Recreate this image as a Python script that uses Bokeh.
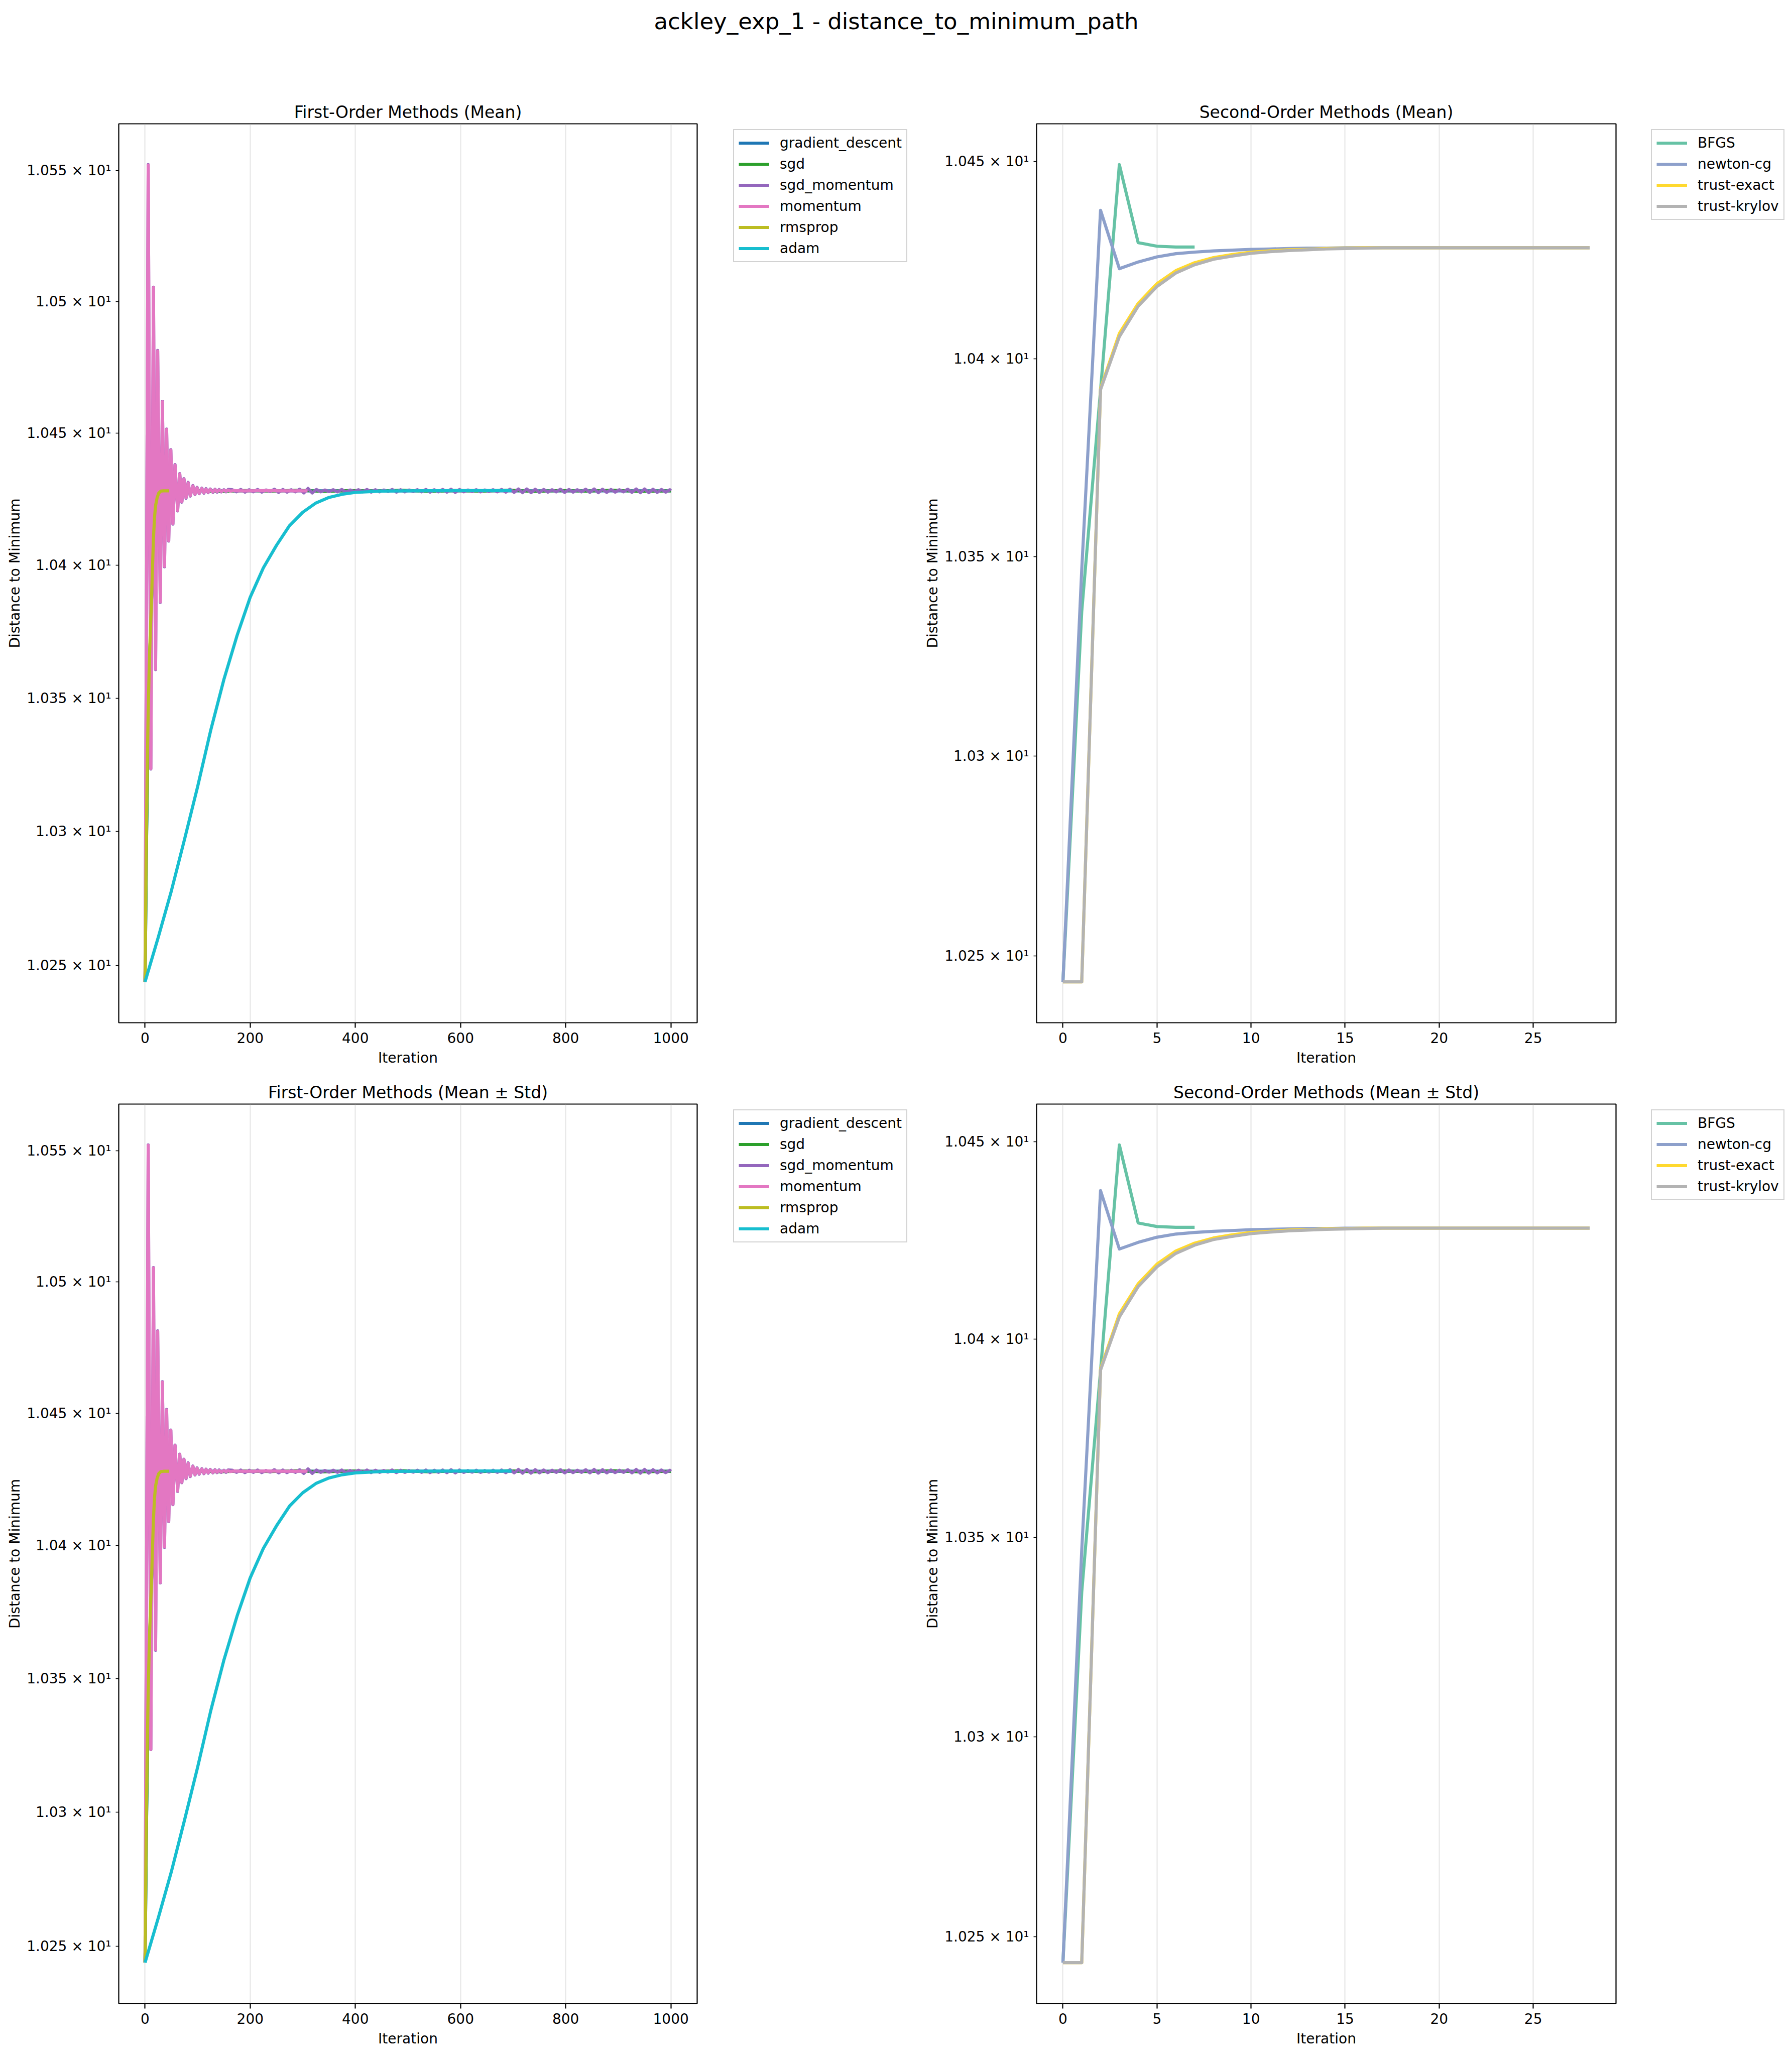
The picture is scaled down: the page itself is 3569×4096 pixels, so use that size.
from bokeh.plotting import figure
from bokeh.models import Range1d, FixedTicker, CustomJSTickFormatter, Legend, LegendItem, Label
from bokeh.layouts import column, row
from bokeh.embed import file_html
from bokeh.resources import INLINE
import math

FONT = "DejaVu Sans"

# ---------------- data ----------------
suptitle = "ackley_exp_1 - distance_to_minimum_path"
panel_titles = ["First-Order Methods (Mean)", "Second-Order Methods (Mean)",
                "First-Order Methods (Mean \u00b1 Std)", "Second-Order Methods (Mean \u00b1 Std)"]
x_label = "Iteration"
y_label = "Distance to Minimum"

first_names = ["gradient_descent", "sgd", "sgd_momentum", "momentum", "rmsprop", "adam"]
first_colors = ["#1f77b4", "#2ca02c", "#9467bd", "#e377c2", "#bcbd22", "#17becf"]

gd_x = [0, 3, 6, 9, 12, 15, 18, 21, 25, 30, 35, 40, 100, 300, 600, 1000]
gd_y = [10.2440, 10.3000, 10.3400, 10.3660, 10.3850, 10.3990, 10.4100, 10.4180, 10.4235,
        10.4265, 10.4278, 10.4281, 10.4281, 10.4281, 10.4281, 10.4281]

sgd_x = [0, 3, 6, 9, 12, 15, 18, 21, 25, 30, 35, 40, 90, 140, 190, 240, 290, 340, 390, 440,
         490, 540, 590, 640, 690, 740, 790, 840, 890, 940, 1000]
sgd_y = [10.2440, 10.3000, 10.3400, 10.3660, 10.3850, 10.3990, 10.4100, 10.4180, 10.4235,
         10.4265, 10.4278, 10.4281, 10.4283, 10.4279, 10.4282, 10.4280, 10.4283, 10.4279,
         10.4282, 10.4280, 10.4283, 10.4279, 10.4282, 10.4280, 10.4283, 10.4279, 10.4282,
         10.4280, 10.4283, 10.4279, 10.4281]

momentum_x = [0, 6, 11, 16, 20, 24, 29, 33, 37, 41, 45, 49, 53, 57, 62, 66, 70, 74, 78, 82,
              86, 91, 95, 99, 103, 108, 112, 116, 120, 124, 129, 133, 137, 141, 145, 150,
              154, 158, 162, 170, 180, 200, 230, 260, 309]
momentum_y = [10.2440, 10.5520, 10.3236, 10.5052, 10.3609, 10.4811, 10.3862, 10.4618,
              10.3996, 10.4513, 10.4093, 10.4435, 10.4157, 10.4378, 10.4207, 10.4344,
              10.4240, 10.4325, 10.4255, 10.4311, 10.4263, 10.4299, 10.4269, 10.4292,
              10.4272, 10.4289, 10.4274, 10.4287, 10.4276, 10.4286, 10.4277, 10.4285,
              10.4278, 10.4284, 10.4279, 10.4283, 10.4280, 10.4283, 10.4280, 10.4282,
              10.4281, 10.4281, 10.4282, 10.4281, 10.4281]

sgd_momentum_x = [0, 6, 11, 16, 20, 24, 29, 33, 37, 41, 45, 49, 53, 57, 62, 66, 70, 74, 78,
                  82, 86, 91, 95, 99, 103, 108, 112, 116, 120, 124, 129, 133, 137, 141, 145,
                  150, 154, 158,
                  166, 174, 182, 190, 198, 206, 214, 222, 230, 238, 246, 254, 262, 270, 278,
                  286, 294, 302, 310, 318, 326, 334, 342, 350, 358, 366, 374, 382, 390, 398,
                  406, 414, 422, 430, 438, 446, 454, 462, 470, 478, 486, 494, 502, 510, 518,
                  526, 534, 542, 550, 558, 566, 574, 582, 590, 598, 606, 614, 622, 630, 638,
                  646, 654, 662, 670, 678, 686, 694, 702, 710, 718, 726, 734, 742, 750, 758,
                  766, 774, 782, 790, 798, 806, 814, 822, 830, 838, 846, 854, 862, 870, 878,
                  886, 894, 902, 910, 918, 926, 934, 942, 950, 958, 966, 974, 982, 990, 998,
                  1000]
sgd_momentum_y = [10.2440, 10.5522, 10.3234, 10.5054, 10.3607, 10.4813, 10.3860, 10.4620,
                  10.3994, 10.4515, 10.4091, 10.4437, 10.4155, 10.4380, 10.4205, 10.4346,
                  10.4238, 10.4327, 10.4253, 10.4313, 10.4261, 10.4301, 10.4267, 10.4294,
                  10.4270, 10.4291, 10.4272, 10.4289, 10.4274, 10.4288, 10.4275, 10.4287,
                  10.4276, 10.4286, 10.4277, 10.4285, 10.4277, 10.4286,
                  10.4285, 10.4277, 10.4286, 10.4276, 10.4285, 10.4277, 10.4286, 10.4276,
                  10.4284, 10.4278, 10.4287, 10.4275, 10.4286, 10.4276, 10.4285, 10.4277,
                  10.4287, 10.4273, 10.4290, 10.4273, 10.4286, 10.4277, 10.4284, 10.4278,
                  10.4285, 10.4277, 10.4286, 10.4276, 10.4284, 10.4278, 10.4285, 10.4277,
                  10.4286, 10.4276, 10.4285, 10.4277, 10.4284, 10.4278, 10.4286, 10.4276,
                  10.4285, 10.4277, 10.4284, 10.4278, 10.4285, 10.4277, 10.4286, 10.4276,
                  10.4285, 10.4277, 10.4286, 10.4276, 10.4287, 10.4275, 10.4286, 10.4277,
                  10.4284, 10.4278, 10.4285, 10.4277, 10.4284, 10.4278, 10.4285, 10.4277,
                  10.4286, 10.4276, 10.4287, 10.4275, 10.4288, 10.4274, 10.4288, 10.4274,
                  10.4287, 10.4275, 10.4286, 10.4276, 10.4285, 10.4277, 10.4287, 10.4275,
                  10.4286, 10.4276, 10.4285, 10.4277, 10.4287, 10.4275, 10.4288, 10.4274,
                  10.4287, 10.4275, 10.4286, 10.4276, 10.4285, 10.4277, 10.4287, 10.4275,
                  10.4288, 10.4274, 10.4288, 10.4274, 10.4287, 10.4275, 10.4286, 10.4276,
                  10.4285, 10.4281]

rmsprop_x = [0, 2, 4, 6, 8, 10, 12, 14, 16, 18, 20, 23, 26, 30, 35, 46]
rmsprop_y = [10.2440, 10.2900, 10.3220, 10.3450, 10.3620, 10.3750, 10.3850, 10.3980,
             10.4100, 10.4180, 10.4225, 10.4255, 10.4272, 10.4280, 10.4281, 10.4281]

adam_x = [0, 25, 50, 75, 100, 125, 150, 175, 200, 225, 250, 275, 300, 325, 350, 375, 400,
          450, 500, 600, 697]
adam_y = [10.2440, 10.2605, 10.2778, 10.2970, 10.3168, 10.3380, 10.3570, 10.3735, 10.3879,
          10.3990, 10.4075, 10.4150, 10.4200, 10.4235, 10.4256, 10.4268, 10.4275, 10.4280,
          10.4281, 10.4282, 10.4282]

second_names = ["BFGS", "newton-cg", "trust-exact", "trust-krylov"]
second_colors = ["#66c2a5", "#8da0cb", "#ffd92f", "#b3b3b3"]

bfgs_x = [0, 1, 2, 3, 4, 5, 6, 7]
bfgs_y = [10.2436, 10.3363, 10.3921, 10.4492, 10.4294, 10.4285, 10.4283, 10.4283]

newton_x = list(range(29))
newton_y = [10.2436, 10.3468, 10.4376, 10.4228, 10.4245, 10.4258, 10.4266, 10.4270, 10.4273,
            10.4275, 10.4277, 10.4278, 10.4279, 10.4280, 10.4280, 10.4281, 10.4281, 10.4281,
            10.4281, 10.4281, 10.4281, 10.4281, 10.4281, 10.4281, 10.4281, 10.4281, 10.4281,
            10.4281, 10.4281]

texact_x = list(range(29))
texact_y = [10.2436, 10.2436, 10.3925, 10.4064, 10.4140, 10.4190, 10.4223, 10.4243, 10.4256,
            10.4264, 10.4270, 10.4273, 10.4276, 10.4277, 10.4279, 10.4280, 10.4281, 10.4281,
            10.4281, 10.4281, 10.4281, 10.4281, 10.4281, 10.4281, 10.4281, 10.4281, 10.4281,
            10.4281, 10.4281]

tkrylov_x = list(range(29))
tkrylov_y = [10.2436, 10.2436, 10.3922, 10.4056, 10.4133, 10.4183, 10.4217, 10.4238, 10.4252,
             10.4260, 10.4267, 10.4271, 10.4274, 10.4276, 10.4278, 10.4279, 10.4280, 10.4281,
             10.4281, 10.4281, 10.4281, 10.4281, 10.4281, 10.4281, 10.4281, 10.4281, 10.4281,
             10.4281, 10.4281]

first_series = [(gd_x, gd_y), (sgd_x, sgd_y), (sgd_momentum_x, sgd_momentum_y),
                (momentum_x, momentum_y), (rmsprop_x, rmsprop_y), (adam_x, adam_y)]
second_series = [(bfgs_x, bfgs_y), (newton_x, newton_y), (texact_x, texact_y),
                 (tkrylov_x, tkrylov_y)]

first_xticks = [0, 200, 400, 600, 800, 1000]
second_xticks = [0, 5, 10, 15, 20, 25]
first_yticks = [10.25, 10.30, 10.35, 10.40, 10.45, 10.50, 10.55]
first_ylabels = ["1.025 \u00d7 10\u00b9", "1.03 \u00d7 10\u00b9", "1.035 \u00d7 10\u00b9",
                 "1.04 \u00d7 10\u00b9", "1.045 \u00d7 10\u00b9", "1.05 \u00d7 10\u00b9",
                 "1.055 \u00d7 10\u00b9"]
second_yticks = [10.25, 10.30, 10.35, 10.40, 10.45]
second_ylabels = ["1.025 \u00d7 10\u00b9", "1.03 \u00d7 10\u00b9", "1.035 \u00d7 10\u00b9",
                  "1.04 \u00d7 10\u00b9", "1.045 \u00d7 10\u00b9"]

# ---------------- styling / layout ----------------
TICK_FS = "28px"
LABEL_FS = "28px"
TITLE_FS = "33px"
SUP_FS = "45px"
LW = 6.2
ITEM_H = 33
LEG_SPACING = 9
LEG_PAD = 9


def log_range(series, frac=0.05):
    lo = min(min(y) for _, y in series)
    hi = max(max(y) for _, y in series)
    a, b = math.log(lo), math.log(hi)
    m = (b - a) * frac
    return math.exp(a - m), math.exp(b + m)


def lin_range(series, frac=0.05):
    lo = min(min(x) for x, _ in series)
    hi = max(max(x) for x, _ in series)
    m = (hi - lo) * frac
    return lo - m, hi + m


def make_panel(title, series, colors, xticks, yticks, ylabels,
               width, height, mb_left, mb_right, mb_top, mb_bottom):
    x0, x1 = lin_range(series)
    y0, y1 = log_range(series)
    p = figure(width=width, height=height, x_range=Range1d(x0, x1), y_range=Range1d(y0, y1),
               y_axis_type="log", output_backend="svg", toolbar_location=None,
               min_border_left=mb_left, min_border_right=mb_right,
               min_border_top=mb_top, min_border_bottom=mb_bottom)
    p.title.text = title
    p.title.text_font = FONT
    p.title.text_font_size = TITLE_FS
    p.title.text_font_style = "normal"
    p.title.text_color = "black"
    p.title.align = "center"
    p.title.standoff = 8
    p.outline_line_color = "black"
    p.outline_line_width = 2.2
    p.outline_line_alpha = 1.0
    p.background_fill_color = "white"
    p.border_fill_color = "white"

    p.xaxis.ticker = FixedTicker(ticks=xticks)
    p.xgrid.ticker = FixedTicker(ticks=xticks)
    p.xgrid.grid_line_color = "#b0b0b0"
    p.xgrid.grid_line_alpha = 0.3
    p.xgrid.grid_line_width = 2.2
    p.ygrid.visible = False

    p.yaxis.ticker = FixedTicker(ticks=yticks)
    p.yaxis.formatter = CustomJSTickFormatter(
        args=dict(vals=yticks, labs=ylabels),
        code="for (let i = 0; i < vals.length; i++) { if (Math.abs(vals[i] - tick) < 1e-6) return labs[i]; } return '';")

    for ax in (p.xaxis[0], p.yaxis[0]):
        ax.axis_line_color = None
        ax.major_label_text_font = FONT
        ax.major_label_text_font_size = TICK_FS
        ax.major_label_text_color = "black"
        ax.axis_label_text_font = FONT
        ax.axis_label_text_font_size = LABEL_FS
        ax.axis_label_text_font_style = "normal"
        ax.axis_label_text_color = "black"
        ax.minor_tick_line_color = None
        ax.major_tick_in = 0
        ax.major_tick_line_color = "black"
    p.xaxis.major_tick_out = 10
    p.xaxis.major_tick_line_width = 2.2
    p.xaxis.major_label_standoff = 9
    p.xaxis.axis_label = x_label
    p.xaxis.axis_label_standoff = 10
    p.yaxis.major_tick_out = 6
    p.yaxis.major_tick_line_width = 1.7
    p.yaxis.major_label_standoff = 9
    p.yaxis.axis_label = y_label
    p.yaxis.axis_label_standoff = 4

    for (xs, ys), col in zip(series, colors):
        p.line(xs, ys, line_color=col, line_width=LW, line_join="round", line_cap="butt")
    return p


def make_legend(series, names, colors, width, height, dx, frame_h):
    # Legend-only figure: the series are drawn, but the view range lies beyond them,
    # so only the legend is seen. Its frame is aligned with the neighbouring panel's frame.
    xmax = max(max(x) for x, _ in series)
    lf = figure(width=width, height=height, x_range=Range1d(2 * xmax + 10, 3 * xmax + 20),
                y_range=Range1d(0, 1), output_backend="svg", toolbar_location=None,
                min_border=0, x_axis_location=None, y_axis_location=None)
    lf.outline_line_color = None
    lf.grid.visible = False
    items = []
    for (xs, ys), name, col in zip(series, names, colors):
        r = lf.line(xs, ys, line_color=col, line_width=LW)
        items.append(LegendItem(label=name, renderers=[r]))
    n = len(items)
    leg_h = n * ITEM_H + (n - 1) * LEG_SPACING + 2 * LEG_PAD
    leg = Legend(items=items, location=(dx, frame_h - 15 - leg_h), orientation="vertical",
                 margin=0, padding=LEG_PAD, spacing=LEG_SPACING, glyph_width=61,
                 glyph_height=ITEM_H, label_standoff=21, label_height=ITEM_H,
                 label_text_font=FONT, label_text_font_size=TICK_FS, label_text_color="black",
                 border_line_color="#d2d2d2", border_line_width=2.5, border_line_alpha=1.0,
                 background_fill_color="white", background_fill_alpha=1.0)
    lf.add_layout(leg, "center")
    return lf


W = 3569
HEAD_H = 150
TOP_H = 1990
BOT_H = 4096 - HEAD_H - TOP_H

# horizontal geometry (target px)
L_FRAME = (236, 1388)
R_FRAME = (2064, 3218)
L_FIG_W = 1428
L_LEG_W = 1830 - L_FIG_W
R_FIG_W = 3258 - 1830
R_LEG_W = W - 3258

header = figure(width=W, height=HEAD_H, x_range=Range1d(0, 1), y_range=Range1d(0, HEAD_H),
                output_backend="svg", toolbar_location=None, min_border=0,
                x_axis_location=None, y_axis_location=None)
header.outline_line_color = None
header.grid.visible = False
header.add_layout(Label(x=0.5, y=HEAD_H - 42, text=suptitle, text_font=FONT,
                        text_font_size=SUP_FS, text_align="center", text_baseline="middle",
                        text_color="black"))

rows = []
for ri, (fig_h, fr_top, fr_bot, y0) in enumerate([(TOP_H, 246, 2036, HEAD_H),
                                                  (BOT_H, 2198, 3989, HEAD_H + TOP_H)]):
    mt = fr_top - y0
    mb = (y0 + fig_h) - fr_bot
    frame_h = fr_bot - fr_top
    lp = make_panel(panel_titles[2 * ri], first_series, first_colors, first_xticks,
                    first_yticks, first_ylabels, L_FIG_W, fig_h,
                    L_FRAME[0], L_FIG_W - L_FRAME[1], mt, mb)
    ll = make_legend(first_series, first_names, first_colors, L_LEG_W, fig_h,
                     1460 - L_FIG_W, frame_h)
    rp = make_panel(panel_titles[2 * ri + 1], second_series, second_colors, second_xticks,
                    second_yticks, second_ylabels, R_FIG_W, fig_h,
                    R_FRAME[0] - (L_FIG_W + L_LEG_W), (L_FIG_W + L_LEG_W + R_FIG_W) - R_FRAME[1],
                    mt, mb)
    rl = make_legend(second_series, second_names, second_colors, R_LEG_W, fig_h,
                     3288 - 3258, frame_h)
    rows.append(row(lp, ll, rp, rl))

layout = column(header, rows[0], rows[1])
open("out.html", "w").write(file_html(layout, INLINE))
